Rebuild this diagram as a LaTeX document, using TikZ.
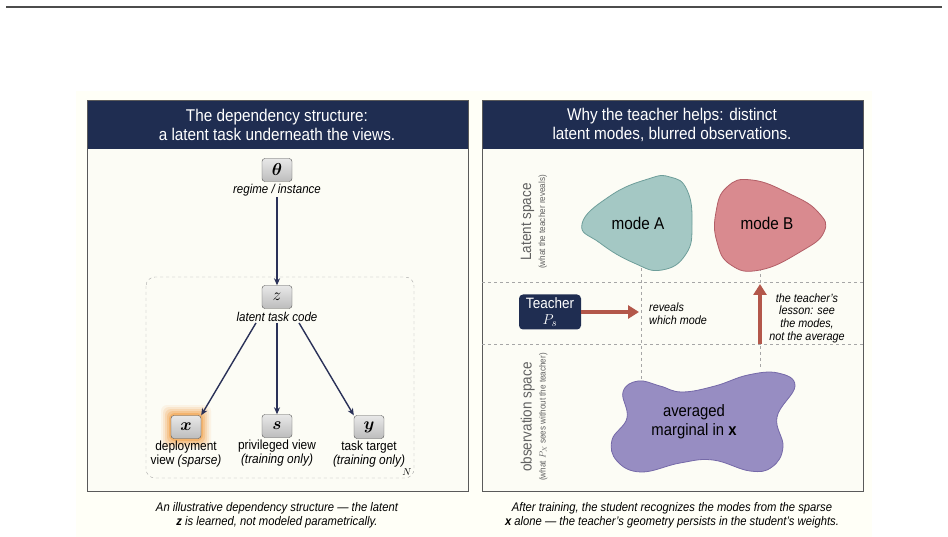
\documentclass[tikz,border=0pt]{standalone}
\usepackage{amsmath}
\usepackage{fontspec}
\setmainfont{Liberation Sans}[FakeStretch=0.9]
\usepackage{tikz}
\usetikzlibrary{calc,arrows.meta,positioning}
\definecolor{navy}{HTML}{1F2D51}
\definecolor{inkc}{HTML}{2A3158}
\definecolor{paper}{HTML}{FCFCF5}
\definecolor{frame}{HTML}{5A5A5A}
\definecolor{rust}{HTML}{B3574A}
\definecolor{tealf}{HTML}{A4C8C4}
\definecolor{teald}{HTML}{6E9E9A}
\definecolor{rosef}{HTML}{D98A8F}
\definecolor{rosed}{HTML}{B25E66}
\definecolor{lilf}{HTML}{978DC2}
\definecolor{lild}{HTML}{7569A8}
\definecolor{glow}{HTML}{F0902A}
\tikzset{
  ar/.style={-{Stealth[length=7pt,width=6pt]},line width=1.4pt,inkc},
  fat/.style={-{Triangle[length=11pt,width=13pt]},line width=3.6pt,rust},
  rv/.style={draw=gray!65!black,rounded corners=3pt,top color=gray!18,bottom color=gray!52,
    minimum width=30pt,minimum height=23pt,inner sep=0pt,font=\fontsize{17}{17}\selectfont},
  lb/.style={font=\fontsize{12.8}{14}\selectfont\itshape,align=center,inner sep=1pt},
  vw/.style={font=\fontsize{13.2}{13.6}\selectfont,align=center,inner sep=1pt},
  hd/.style={text=white,font=\fontsize{17}{19}\selectfont,align=center},
  capt/.style={font=\fontsize{12.5}{14}\selectfont\itshape,align=center},
  sep/.style={dashed,gray!70,line width=0.5pt},
  side/.style={rotate=90,text=gray!75!black,align=center,inner sep=0pt}
}
\begin{document}
\begin{tikzpicture}[x=1pt,y=-1pt]
\useasboundingbox (0,0) rectangle (948,537);
\fill[white] (0,0) rectangle (948,537);
\draw[gray!60!black,line width=1.6pt] (6,7)--(942,7);
\fill[yellow!3!white] (76,91) rectangle (872,537);
% panels
\foreach \px in {87,482}{
  \fill[paper] (\px,100) rectangle ++(381,391);
  \fill[navy] (\px,100) rectangle ++(381,49);
  \draw[frame,line width=0.8pt] (\px,100) rectangle ++(381,391);
}
\node[hd] (ttl) at (277,125) {The dependency structure:\\a latent task underneath the views.};
\node[hd] (ttr) at (672,125) {Why the teacher helps: distinct\\latent modes, blurred observations.};

% ---- left: graphical model ----
\draw[dashed,gray!70,rounded corners=9pt] (146,277) rectangle (414,478);
\node[font=\fontsize{10}{10}\selectfont] (plN) at (407,472) {$N$};
\foreach \r/\o in {10/0.08,8/0.12,6/0.17,4/0.24,2/0.35}
  \fill[glow,opacity=\o,rounded corners=6pt] ({171-\r},{415-\r}) rectangle ({201+\r},{439+\r});
\node[rv] (th) at (277,170) {$\boldsymbol{\theta}$};
\node[lb] (thl) at (277,190) {regime / instance};
\node[rv] (z) at (277,297) {$z$};
\node[lb] (zl) at (277,317) {latent task code};
\node[rv] (x) at (186,427) {$\boldsymbol{x}$};
\node[rv] (s) at (277,426) {$\boldsymbol{s}$};
\node[rv] (y) at (369,427) {$\boldsymbol{y}$};
\node[vw,below=1.5pt of x] (xl) {deployment\\view \textit{(sparse)}};
\node[vw,below=1.5pt of s] (sl) {privileged view\\\textit{(training only)}};
\node[vw,below=1.5pt of y] (yl) {task target\\\textit{(training only)}};
\draw[ar] (thl.south) -- (z.north);
\draw[ar] ([xshift=-21pt]zl.south) -- (x.north east);
\draw[ar] (zl.south) -- (s.north);
\draw[ar] ([xshift=22pt]zl.south) -- (y.north west);
\node[capt] (cl) at (277,515) {An illustrative dependency structure --- the latent\\\textbf{z} is learned, not modeled parametrically.};

% ---- right: modes ----
\coordinate (aB) at (641,268);
\coordinate (bB) at (760,268);
\coordinate (oA) at (641,380);
\coordinate (oB) at (760,367);
\draw[sep] (aB) -- (oA);
\draw[sep] (bB) -- (oB);
\draw[sep] (482,282) -- (863,282);
\draw[sep] (482,344) -- (863,344);
\filldraw[fill=tealf,draw=teald,line width=0.8pt] plot[smooth cycle,tension=0.8] coordinates
  {(582,224) (610,196) (648,179) (670,177) (687,190) (692,224) (686,254) (662,270) (634,263) (600,243)};
\filldraw[fill=rosef,draw=rosed,line width=0.8pt] plot[smooth cycle,tension=0.8] coordinates
  {(716,212) (727,187) (752,180) (790,194) (818,212) (824,232) (800,252) (760,270) (731,265) (717,242)};
\filldraw[fill=lilf,draw=lild,line width=0.8pt] plot[smooth cycle,tension=0.7] coordinates
  {(623,392) (638,381) (660,386) (682,392) (715,386) (748,375) (778,373) (795,386) (777,417) (783,447) (772,467) (750,471) (713,460) (680,463) (641,472) (617,461) (612,440) (627,418)};
\node[font=\fontsize{17}{18}\selectfont] (mA) at (638,223) {mode A};
\node[font=\fontsize{17}{18}\selectfont] (mB) at (767,223) {mode B};
\node[font=\fontsize{16.5}{19}\selectfont,align=center] (avg) at (694,422) {averaged\\marginal in \textbf{x}};
\node[side] (ls) at (534,222) {{\fontsize{15}{15}\selectfont Latent space}\\[2pt]{\fontsize{9}{9}\selectfont (what the teacher reveals)}};
\node[side] (os) at (534,417) {{\fontsize{15}{15}\selectfont observation space}\\[2pt]{\fontsize{9}{9}\selectfont (what $P_X$ sees without the teacher)}};
\node[fill=navy,rounded corners=4pt,text=white,minimum width=62pt,minimum height=35pt,align=center,
  inner sep=1pt,font=\fontsize{15}{16}\selectfont] (tch) at (550,312) {Teacher\\$P_s$};
\coordinate (rvA) at (639,312);
\draw[fat] (tch.east) -- (rvA);
\node[lb,anchor=west,align=left,font=\fontsize{12}{13}\selectfont\itshape] (rvl) at (648,314) {reveals\\which mode};
\coordinate (up0) at (760,344);
\coordinate (up1) at (760,284);
\draw[fat] (up0) -- (up1);
\node[lb,font=\fontsize{12}{12.6}\selectfont\itshape] (les) at (807,318) {the teacher's\\lesson: see\\the modes,\\not the average};
\node[capt] (cr) at (672,515) {After training, the student recognizes the modes from the sparse\\\textbf{x} alone --- the teacher's geometry persists in the student's weights.};
\end{tikzpicture}
\end{document}
